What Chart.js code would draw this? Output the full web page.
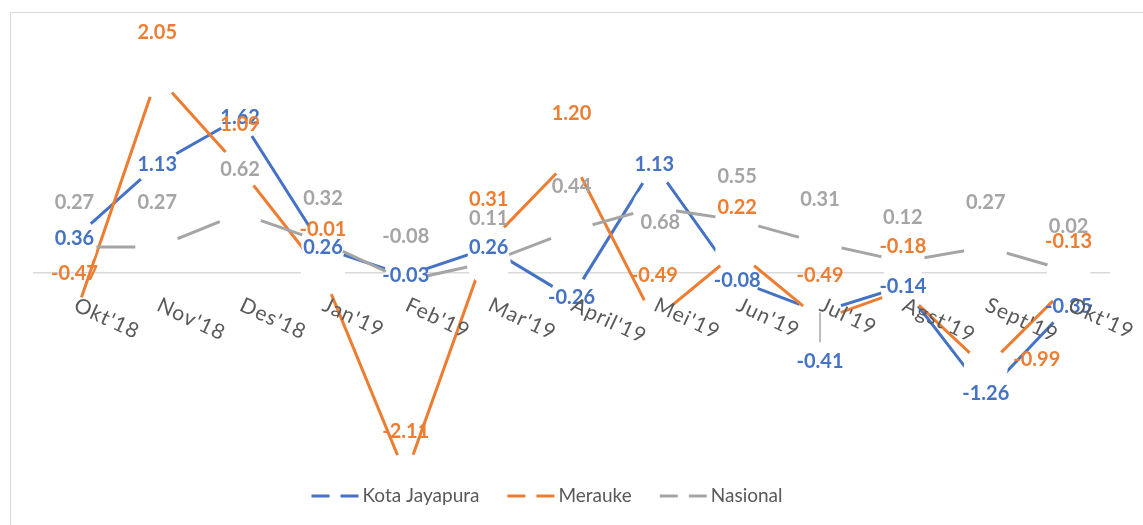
<!DOCTYPE html>
<html>
<head>
<meta charset="utf-8">
<script src="https://cdn.jsdelivr.net/npm/chart.js@4.4.1/dist/chart.umd.min.js"></script>
<style>
  body { margin: 0; background: #fff; }
  #wrap { position: relative; width: 1143px; height: 525px; overflow: hidden; }
  #frame { position: absolute; left: 10px; top: 12px; width: 1200px; height: 600px; border: 1px solid #d9d9d9; }
  #report_chart { position: absolute; left: 0; top: 0; }
</style>
</head>
<body>
<div id="wrap">
  <div id="frame"></div>
  <canvas id="report_chart" width="1143" height="525"></canvas>
</div>
<script>
var categories = ["Okt'18", "Nov'18", "Des'18", "Jan'19", "Feb'19", "Mar'19", "April'19", "Mei'19", "Jun'19", "Jul'19", "Agst'19", "Sept'19", "Okt'19"];

var kotaJayapura = [0.36, 1.13, 1.62, 0.26, -0.03, 0.26, -0.26, 1.13, -0.08, -0.41, -0.14, -1.26, -0.35];
var merauke = [-0.47, 2.05, 1.09, -0.01, -2.11, 0.31, 1.20, -0.49, 0.22, -0.49, -0.18, -0.99, -0.13];
var nasional = [0.27, 0.27, 0.62, 0.32, -0.08, 0.11, 0.44, 0.68, 0.55, 0.31, 0.12, 0.27, 0.02];

var seriesNames = ["Kota Jayapura", "Merauke", "Nasional"];
var seriesColors = ["#4472C4", "#ED7D31", "#A5A5A5"];

// where each data label sits relative to its point: [dx, dy, leader line]
var labelDefault = [[0, 0], [0, -44], [0, -44]];
var labelMoved = [
  { 9: [0, 49, true] },
  { 11: [51, -8] },
  { 7: [6, 15] }
];

var FONT = "Lato, 'Open Sans', sans-serif";

function makeSet(i, values, order) {
  return {
    label: seriesNames[i],
    data: values,
    borderColor: seriesColors[i],
    backgroundColor: seriesColors[i],
    borderWidth: 3,
    tension: 0,
    pointRadius: 22,
    pointHoverRadius: 22,
    pointBackgroundColor: '#ffffff',
    pointBorderWidth: 0,
    pointBorderColor: '#ffffff',
    order: order
  };
}

var excelLabels = {
  id: 'excelLabels',
  afterDatasetsDraw: function(chart) {
    var ctx = chart.ctx;
    var xs = chart.scales.x;
    var ys = chart.scales.y;
    var y0 = ys.getPixelForValue(0);
    ctx.save();

    // value labels, grey first so orange ends up on top
    [2, 0, 1].forEach(function(di) {
      var meta = chart.getDatasetMeta(di);
      var ds = chart.data.datasets[di];
      ctx.font = 'bold 20px ' + FONT;
      ctx.textAlign = 'center';
      ctx.textBaseline = 'middle';
      meta.data.forEach(function(pt, i) {
        var off = labelMoved[di][i] || labelDefault[di];
        var lx = pt.x + off[0];
        var ly = pt.y + off[1];
        if (off[2]) {
          ctx.strokeStyle = '#A6A6A6';
          ctx.lineWidth = 1.5;
          ctx.beginPath();
          ctx.moveTo(lx, pt.y);
          ctx.lineTo(lx, ly - 19);
          ctx.stroke();
        }
        ctx.fillStyle = ds.borderColor;
        ctx.fillText(ds.data[i].toFixed(2), lx, ly);
      });
    });

    // category labels, tilted down to the right
    ctx.font = '21px ' + FONT;
    ctx.letterSpacing = '1px';
    ctx.fillStyle = '#595959';
    ctx.textAlign = 'left';
    ctx.textBaseline = 'middle';
    categories.forEach(function(c, i) {
      var px = xs.getPixelForValue(i);
      ctx.save();
      ctx.translate(px + 1, y0 + 31);
      ctx.rotate(25 * Math.PI / 180);
      ctx.fillText(c, 0, 0);
      ctx.restore();
    });
    ctx.letterSpacing = '0px';

    // legend: line with a marker gap in the middle
    ctx.font = '19px ' + FONT;
    var lineW = 47, textGap = 4, itemGap = 28;
    var total = 0;
    seriesNames.forEach(function(n, i) {
      total += lineW + textGap + ctx.measureText(n).width + (i < seriesNames.length - 1 ? itemGap : 0);
    });
    var lx = 547 - total / 2;
    var ly = 496;
    seriesNames.forEach(function(n, i) {
      ctx.strokeStyle = seriesColors[i];
      ctx.lineWidth = 3;
      ctx.setLineDash([18, 11]);
      ctx.beginPath();
      ctx.moveTo(lx, ly);
      ctx.lineTo(lx + lineW, ly);
      ctx.stroke();
      ctx.setLineDash([]);
      ctx.fillStyle = '#595959';
      ctx.fillText(n, lx + lineW + textGap, ly);
      lx += lineW + textGap + ctx.measureText(n).width + itemGap;
    });
    ctx.restore();
  }
};

var chartdata = {
  labels: categories,
  datasets: [
    makeSet(0, kotaJayapura, 3),
    makeSet(1, merauke, 2),
    makeSet(2, nasional, 1)
  ]
};

var ctx = document.getElementById('report_chart');

var lineGraph = new Chart(ctx, {
  type: 'line',
  data: chartdata,
  options: {
    responsive: false,
    animation: false,
    events: [],
    layout: { padding: { left: 33, right: 33, top: 33, bottom: 41 } },
    plugins: {
      legend: { display: false },
      tooltip: { enabled: false }
    },
    scales: {
      x: { display: false, offset: true },
      y: {
        min: -2.2,
        max: 2.5,
        ticks: { display: false, stepSize: 0.5 },
        border: { display: false },
        grid: {
          drawTicks: false,
          lineWidth: 1.5,
          color: function(c) {
            return c.tick && c.tick.value === 0 ? '#D9D9D9' : 'rgba(0,0,0,0)';
          }
        }
      }
    }
  },
  plugins: [excelLabels]
});
</script>
</body>
</html>
